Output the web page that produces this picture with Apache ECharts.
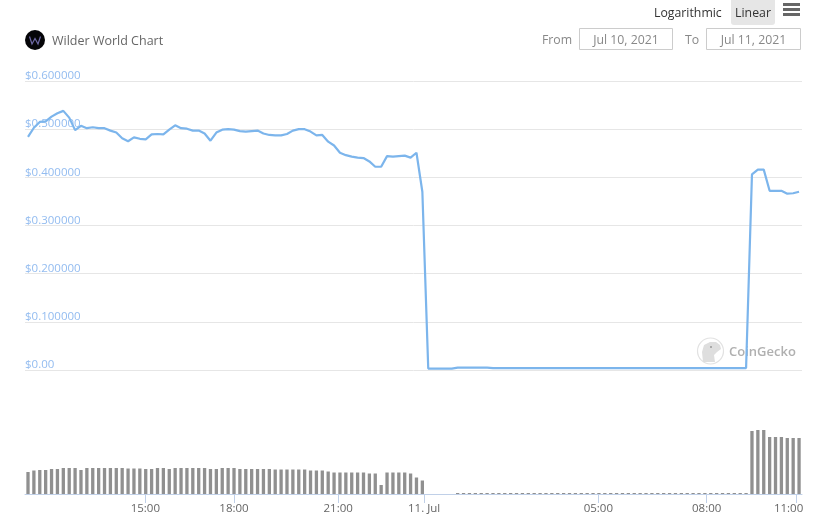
<!DOCTYPE html>
<html>
<head>
<meta charset="utf-8">
<style>html,body{margin:0;padding:0;background:#fff}#c{width:823px;height:524px}</style>
<script src="https://cdn.jsdelivr.net/npm/echarts@6/dist/echarts.min.js"></script>
</head>
<body>
<div id="c"></div>
<script>
// Price in USD, one reading every 12 minutes (132 points)
const priceValues = [
  .484,.503,.515,.516,.526,.533,.538,.524,.498,.507,.502,.504,.502,.502,.497,.493,.481,.475,.483,.480,
  .479,.489,.490,.489,.499,.508,.502,.501,.497,.497,.491,.476,.493,.499,.500,.499,.496,.495,.496,.497,
  .491,.488,.487,.487,.490,.497,.500,.500,.495,.487,.488,.474,.466,.451,.446,.443,.441,.440,.433,.422,
  .422,.444,.443,.444,.445,.441,.451,.370,.003,.003,.003,.003,.003,.005,.005,.005,.005,.005,.005,.004,
  .004,.004,.004,.004,.004,.004,.004,.004,.004,.004,.004,.004,.004,.004,.004,.004,.004,.004,.004,.004,
  .004,.004,.004,.004,.004,.004,.004,.004,.004,.004,.004,.004,.004,.004,.004,.004,.004,.004,.004,.004,
  .004,.004,.004,.406,.416,.416,.372,.372,.372,.366,.367,.370
];
// Volume, relative units (absent where no bar is drawn)
const volumeValues = [
  22,23.5,24,24,25,25,26,26,26,24,26,26,26,26,26,26,26,25.5,25.5,25.5,
  25,25,26,26,25,26,26,26,26,26,26,25,25,26,26,26,25,25,25,25,
  25,25,24.5,24.5,24.5,24.5,24.5,24.5,23.5,23.5,23.5,22.5,21.5,21.5,21.5,21.5,21.5,21.5,20.5,20.5,
  9,21.5,21.5,21.5,21.5,20.5,16.5,13.5,null,null,null,null,null,1,1,1,1,1,1,1,
  1,1,1,1,1,1,1,1,1,1,1,1,1,1,1,1,1,1,1,1,
  1,1,1,1,1,1,1,1,1,1,1,1,1,1,1,1,1,1,1,1,
  1,1,1,63,64,64,57,57,57,56,56,56
];
// Tick positions on the ordinal point scale, with their labels
const tickPositions = [19.93, 35, 52.7, 67.3, 96.9, 115.3, 130.5];
const tickLabels = ['15:00', '18:00', '21:00', '11. Jul', '05:00', '08:00', '11:00'];
const priceTicks = [0, 0.1, 0.2, 0.3, 0.4, 0.5, 0.6];

const FONT = '"Open Sans", "Noto Sans", sans-serif';
const pricePairs = priceValues.map((v, i) => [i, v]);
const volumePairs = volumeValues.map((v, i) => [i, v]);
const xRange = { min: -0.51, max: 131.5 };

const chart = echarts.init(document.getElementById('c'), null, { renderer: 'canvas' });

function txt(x, y, text, fill, size, align, weight) {
  return { type: 'text', x, y, silent: true, style: {
    text, fill, font: (weight || 'normal') + ' ' + size + 'px ' + FONT,
    textAlign: align || 'left', textVerticalAlign: 'middle' } };
}
function box(x, y, w, h, fill, stroke, r) {
  return { type: 'rect', silent: true, shape: { x, y, width: w, height: h, r: r || 0 },
    style: { fill, stroke: stroke || null, lineWidth: 1 } };
}

chart.setOption({
  animation: false,
  backgroundColor: '#fff',
  grid: [
    { left: 25, right: 21, top: 81, height: 289 },
    { left: 25, right: 21, top: 429, height: 65 }
  ],
  xAxis: [
    { type: 'value', gridIndex: 0, ...xRange, show: false },
    { type: 'value', gridIndex: 1, ...xRange,
      splitLine: { show: false },
      axisLine: { show: true, onZero: false, lineStyle: { color: '#c0d0e8', width: 1 } },
      axisTick: { show: true, length: 9, customValues: tickPositions, lineStyle: { color: '#c0d0e8' } },
      axisLabel: { show: true, customValues: tickPositions, margin: 9, color: '#666', fontSize: 11.5, fontFamily: FONT,
        rich: { edge: { color: '#666', fontSize: 11.5, fontFamily: FONT, padding: [0, 15, 0, 0] } },
        formatter: v => {
          const i = tickPositions.indexOf(v);
          return i === tickLabels.length - 1 ? '{edge|' + tickLabels[i] + '}' : tickLabels[i];
        } }
    }
  ],
  yAxis: [
    { type: 'value', gridIndex: 0, min: 0, max: 0.6, interval: 0.1,
      axisLine: { show: false }, axisTick: { show: false },
      splitLine: { show: true, lineStyle: { color: '#e6e6e6', width: 1 } },
      axisLabel: { inside: true, margin: 0, color: '#93bcf0', fontSize: 11.5, lineHeight: 10, fontFamily: FONT,
        verticalAlign: 'bottom', align: 'left',
        formatter: v => v === priceTicks[0] ? '$0.00' : '$' + v.toFixed(6) } },
    { type: 'value', gridIndex: 1, min: 0, max: 65, show: false }
  ],
  series: [
    { type: 'line', name: 'Price', xAxisIndex: 0, yAxisIndex: 0, data: pricePairs,
      showSymbol: false, smooth: false, lineStyle: { color: '#7cb5ec', width: 2.2 }, itemStyle: { color: '#7cb5ec' } },
    { type: 'bar', name: 'Volume', xAxisIndex: 1, yAxisIndex: 1, data: volumePairs,
      barWidth: 3.3, itemStyle: { color: '#909090' } }
  ],
  graphic: { elements: [
    // header: title and logo
    { type: 'circle', silent: true, shape: { cx: 35, cy: 40, r: 10 }, style: { fill: '#050508' } },
    { type: 'polyline', silent: true, shape: { points: [[29.5,36.5],[32,44],[35,38.5],[38,44],[40.5,36.5]] },
      style: { fill: null, stroke: '#6f6aa8', lineWidth: 1.2 } },
    txt(52, 41.5, 'Wilder World Chart', '#666', 12.5),
    // scale switcher and menu
    txt(654, 13, 'Logarithmic', '#333', 12.3),
    box(731, 0, 44, 25, '#e6e6e6', null, [0, 0, 3, 3]),
    txt(753, 13, 'Linear', '#333', 12.3, 'center'),
    box(783, 3, 17, 3, '#666'),
    box(783, 8, 17, 3, '#666'),
    box(783, 13, 17, 3, '#666'),
    // date range
    txt(542, 40, 'From', '#888', 12.3),
    box(579.5, 28.5, 93, 21, '#fff', '#ccc'),
    txt(626, 40, 'Jul 10, 2021', '#888', 12.3, 'center'),
    txt(685, 40, 'To', '#888', 12.3),
    box(706.5, 28.5, 94, 21, '#fff', '#ccc'),
    txt(753.5, 40, 'Jul 11, 2021', '#888', 12.3, 'center'),
    // watermark
    { type: 'circle', silent: true, z: 0, shape: { cx: 710.5, cy: 351, r: 13 }, style: { fill: '#fff', stroke: '#e2e2e2', lineWidth: 1.2 } },
    { type: 'polygon', silent: true, z: 0, shape: { points: [[703,362],[702,352],[704,345],[710,342],[716,342],[720,345],[721,349],[717,352],[714,355],[715,362]] }, style: { fill: '#dedede' } },
    { type: 'circle', silent: true, z: 0, shape: { cx: 711, cy: 347, r: 1 }, style: { fill: '#999' } },
    { type: 'text', x: 729, y: 352, silent: true, z: 0, style: { text: 'CoinGecko', fill: '#b0b0b0',
      font: '600 13px "Open Sans", sans-serif', textAlign: 'left', textVerticalAlign: 'middle' } }
  ] }
});
</script>
</body>
</html>
